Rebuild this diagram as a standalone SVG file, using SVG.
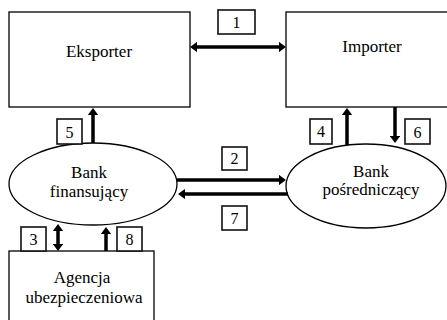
<svg xmlns="http://www.w3.org/2000/svg" width="447" height="320" viewBox="0 0 447 320">
<style>
.node{fill:#fff;stroke:#000;stroke-width:1.3}
.lbl{font-size:17px;fill:#000;text-anchor:middle}
.num{font-size:16px;fill:#000;text-anchor:middle}
.box{fill:#fff;stroke:#111;stroke-width:1.6}
.conn{stroke:#000;stroke-width:3.5;fill:none}
</style>
<defs>
<marker id="ah" viewBox="0 0 10 10" refX="6" refY="5" markerWidth="2.1" markerHeight="3.1" preserveAspectRatio="none" orient="auto-start-reverse" markerUnits="strokeWidth">
<path d="M0,0 L10,5 L0,10 z" fill="#000"/>
</marker>
</defs>
<g font-family="Liberation Serif, DejaVu Serif, serif">
<g id="eksporter"><rect class="node" x="9" y="12" width="181" height="95"/><text class="lbl" x="99" y="57">Eksporter</text></g>
<g id="importer"><rect class="node" x="286" y="12" width="170" height="95"/><text class="lbl" x="372" y="52">Importer</text></g>
<g id="bank-finansujacy"><ellipse class="node" cx="93" cy="184" rx="84" ry="41"/><text class="lbl" x="89" y="178">Bank</text><text class="lbl" x="89" y="197">finansujący</text></g>
<g id="bank-posredniczacy"><ellipse class="node" cx="366" cy="186" rx="80" ry="42"/><text class="lbl" x="371" y="177">Bank</text><text class="lbl" x="371" y="195">pośredniczący</text></g>
<g id="agencja"><rect class="node" x="9" y="251" width="145" height="80"/><text class="lbl" x="82" y="283">Agencja</text><text class="lbl" x="84" y="303">ubezpieczeniowa</text></g>
<g id="connectors">
<line class="conn" x1="193" y1="47" x2="283" y2="47" marker-start="url(#ah)" marker-end="url(#ah)"/>
<line class="conn" x1="93" y1="143" x2="93" y2="111" marker-end="url(#ah)"/>
<line class="conn" x1="347" y1="145" x2="347" y2="111" marker-end="url(#ah)"/>
<line class="conn" x1="395" y1="107" x2="395" y2="140" marker-end="url(#ah)"/>
<line class="conn" x1="177" y1="180" x2="283" y2="180" marker-end="url(#ah)"/>
<line class="conn" x1="288" y1="194" x2="181" y2="194" marker-end="url(#ah)"/>
<line class="conn" x1="58" y1="227" x2="58" y2="248" marker-start="url(#ah)" marker-end="url(#ah)"/>
<line class="conn" x1="106" y1="251" x2="106" y2="230" marker-end="url(#ah)"/>
</g>
<g id="labels">
<rect class="box" x="218" y="10" width="37" height="24"/><text class="num" x="236.5" y="28">1</text>
<rect class="box" x="222" y="147" width="25" height="23"/><text class="num" x="234.5" y="164">2</text>
<rect class="box" x="21" y="227" width="25" height="24"/><text class="num" x="33.5" y="245">3</text>
<rect class="box" x="310" y="119" width="22" height="25"/><text class="num" x="321" y="137">4</text>
<rect class="box" x="57" y="119" width="25" height="25"/><text class="num" x="69.5" y="138">5</text>
<rect class="box" x="405" y="119" width="25" height="25"/><text class="num" x="417.5" y="138">6</text>
<rect class="box" x="222" y="206" width="25" height="24"/><text class="num" x="234.5" y="224">7</text>
<rect class="box" x="117" y="227" width="25" height="24"/><text class="num" x="129.5" y="245">8</text>
</g>
</g>
</svg>
